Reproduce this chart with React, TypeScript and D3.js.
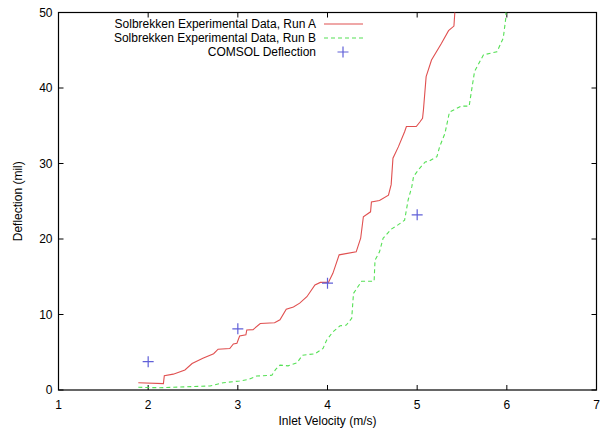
import React, { useEffect, useRef } from "react";
import * as d3 from "d3";

// Run A (solid red)
const runAVel = [1.89, 2.17, 2.18, 2.28, 2.41, 2.49, 2.61, 2.73, 2.78, 2.91, 2.95, 2.99, 3.02, 3.09, 3.10, 3.17, 3.25, 3.41, 3.47, 3.54, 3.62, 3.69, 3.77, 3.86, 3.92, 4.01, 4.06, 4.13, 4.32, 4.37, 4.40, 4.48, 4.49, 4.58, 4.68, 4.71, 4.73, 4.79, 4.86, 4.88, 4.99, 5.03, 5.06, 5.07, 5.10, 5.16, 5.27, 5.35, 5.41, 5.42];
const runADef = [0.97, 0.85, 1.9, 2.1, 2.65, 3.5, 4.2, 4.8, 5.4, 5.5, 6.1, 6.2, 7.15, 7.3, 7.95, 8.0, 8.8, 8.9, 9.3, 10.7, 11.0, 11.5, 12.35, 13.9, 14.25, 14.25, 15.45, 17.9, 18.3, 20.1, 22.95, 23.6, 24.9, 25.1, 25.8, 27.2, 30.7, 32.2, 34.2, 34.9, 34.9, 35.5, 36, 37.1, 41.5, 43.7, 45.9, 47.6, 48.2, 50];

// Run B (dashed green)
const runBVel = [1.89, 2.13, 2.69, 2.84, 3.02, 3.12, 3.21, 3.38, 3.42, 3.47, 3.56, 3.66, 3.72, 3.86, 3.95, 3.99, 4.06, 4.14, 4.21, 4.27, 4.29, 4.38, 4.52, 4.53, 4.58, 4.62, 4.71, 4.79, 4.86, 4.90, 4.94, 4.96, 5.03, 5.09, 5.13, 5.22, 5.25, 5.31, 5.36, 5.49, 5.58, 5.59, 5.64, 5.74, 5.89, 5.96, 5.99, 5.99];
const runBDef = [0.36, 0.3, 0.53, 0.97, 1.2, 1.4, 1.85, 1.95, 2.7, 3.3, 3.2, 3.6, 4.6, 4.8, 5.5, 6.6, 7.7, 8.5, 8.6, 9.5, 12.8, 14.4, 14.4, 17.2, 18.3, 20.1, 21.3, 21.9, 22.5, 25.2, 26.9, 28.3, 29.4, 30.2, 30.3, 30.9, 32.2, 34.0, 36.8, 37.6, 37.6, 38.4, 42.2, 44.4, 44.8, 46.6, 49.4, 50];

// COMSOL points
const comsolVel = [2, 3, 4, 5];
const comsolDef = [3.75, 8.1, 14.15, 23.2];

const xTicks = [1, 2, 3, 4, 5, 6, 7];
const yTicks = [0, 10, 20, 30, 40, 50];

const seriesNames = [
    "Solbrekken Experimental Data, Run A",
    "Solbrekken Experimental Data, Run B",
    "COMSOL Deflection",
];

const W = 603, H = 434;
const font = "'Liberation Sans', Arial, Helvetica, sans-serif";

function App() {
    const ref = useRef<SVGSVGElement>(null);

    useEffect(() => {
        const svg = d3.select(ref.current);
        svg.selectAll("*").remove();

        const x = d3.scaleLinear().domain([1, 7]).range([58.5, 596.5]);
        const y = d3.scaleLinear().domain([0, 50]).range([390, 12.5]);
        const [x0, x1] = x.range();
        const [y0, y1] = y.range();

        const g = svg.append("g");

        // frame ticks (inward, mirrored)
        const tl = 5;
        xTicks.forEach(t => {
            g.append("line").attr("x1", x(t)).attr("x2", x(t)).attr("y1", y0).attr("y2", y0 - tl).attr("stroke", "#000");
            g.append("line").attr("x1", x(t)).attr("x2", x(t)).attr("y1", y1).attr("y2", y1 + tl).attr("stroke", "#000");
            g.append("text").attr("x", x(t)).attr("y", y0 + 19).attr("text-anchor", "middle")
                .attr("font-family", font).attr("font-size", 12).text(t);
        });
        yTicks.forEach(t => {
            g.append("line").attr("x1", x0).attr("x2", x0 + tl).attr("y1", y(t)).attr("y2", y(t)).attr("stroke", "#000");
            g.append("line").attr("x1", x1).attr("x2", x1 - tl).attr("y1", y(t)).attr("y2", y(t)).attr("stroke", "#000");
            g.append("text").attr("x", x0 - 6).attr("y", y(t) + 4).attr("text-anchor", "end")
                .attr("font-family", font).attr("font-size", 12).text(t);
        });

        g.append("rect").attr("x", x0).attr("y", y1).attr("width", x1 - x0).attr("height", y0 - y1)
            .attr("fill", "none").attr("stroke", "#000").attr("stroke-width", 1.2);

        // axis titles
        g.append("text").attr("x", (x0 + x1) / 2).attr("y", 425).attr("text-anchor", "middle")
            .attr("font-family", font).attr("font-size", 12).text("Inlet Velocity (m/s)");
        g.append("text").attr("transform", `translate(22,${(y0 + y1) / 2}) rotate(-90)`).attr("text-anchor", "middle")
            .attr("font-family", font).attr("font-size", 12).text("Deflection (mil)");

        const line = d3.line<[number, number]>().x(d => x(d[0])).y(d => y(d[1]));
        const runA = runAVel.map((v, i) => [v, runADef[i]] as [number, number]);
        const runB = runBVel.map((v, i) => [v, runBDef[i]] as [number, number]);

        svg.append("path").datum(runA).attr("d", line).attr("fill", "none")
            .attr("stroke", "#e05050").attr("stroke-width", 1.1);
        svg.append("path").datum(runB).attr("d", line).attr("fill", "none")
            .attr("stroke", "#55e055").attr("stroke-width", 1.1).attr("stroke-dasharray", "4,3");

        const plus = (cx: number, cy: number) => {
            const s = 5.5;
            svg.append("path").attr("d", `M${cx - s},${cy}H${cx + s}M${cx},${cy - s}V${cy + s}`)
                .attr("stroke", "#6060d8").attr("stroke-width", 1.2).attr("fill", "none");
        };
        comsolVel.forEach((v, i) => plus(x(v), y(comsolDef[i])));

        // legend
        const rows = [24, 38, 52];
        rows.forEach((ry, i) => {
            svg.append("text").attr("x", 316).attr("y", ry + 4).attr("text-anchor", "end")
                .attr("font-family", font).attr("font-size", 12).text(seriesNames[i]);
        });
        svg.append("line").attr("x1", 324).attr("x2", 363).attr("y1", rows[0]).attr("y2", rows[0])
            .attr("stroke", "#e05050").attr("stroke-width", 1.1);
        svg.append("line").attr("x1", 324).attr("x2", 363).attr("y1", rows[1]).attr("y2", rows[1])
            .attr("stroke", "#55e055").attr("stroke-width", 1.1).attr("stroke-dasharray", "4,3");
        plus(343, rows[2]);
    }, []);

    return (
        <svg ref={ref} width={W} height={H}
            style={{ position: "absolute", left: 0, top: 0, background: "#fff" }} />
    );
}

export default App;
